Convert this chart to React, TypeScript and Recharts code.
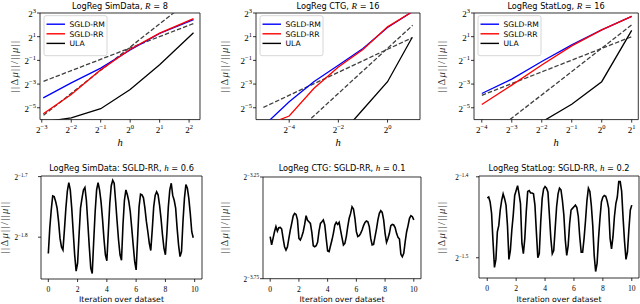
import React from "react";
import { LineChart, Line, XAxis, YAxis, ReferenceArea } from "recharts";

const SERIF = "'Liberation Serif', 'DejaVu Serif', serif";
const SANS = "'DejaVu Sans', sans-serif";

// top row: log2(h) and log2(||Δμ||/||μ||)
const simH = [-2.95, -2, -1, 0, 1, 2.15];
const simRM = [-4.16, -2.9, -1.65, -0.12, 1.27, 2.44];
const simRR = [-5.5, -3.88, -1.8, -0.06, 1.3, 2.53];
const simULA = [-6.2, -5.85, -5.08, -3.46, -1.37, 1.33];
const simRefH = [-2.94, 2.15];
const simRef1 = [-2.77, 2.11];
const simRef2 = [-5.63, 4.33];

const ctgH = [-5, -4, -3, -2, -1, 0, 1];
const ctgRM = [-6.45, -4.5, -2.81, -1.41, 0.0, 1.77, 3.1];
const ctgRR = [-6.5, -5.7, -3.37, -1.55, -0.08, 1.83, 3.1];
const ctgUlaH = [-2, -1, 0, 1];
const ctgULA = [-7.5, -5.15, -2.8, 0.93];
const ctgRefH = [-5.05, 1.02];
const ctgRef1 = [-4.97, 0.93];
const ctgRef2 = [-9.6, 1.96];

const statH = [-4, -3, -2, -1, 0, 1];
const statRM = [-3.8, -2.58, -1.1, 0.31, 1.58, 2.72];
const statRR = [-4.73, -3.09, -1.39, 0.22, 1.58, 2.72];
const statUlaH = [-2, -1, 0, 1];
const statULA = [-6.2, -4.7, -2.8, 1.53];
const statRef1H = [-4, 1];
const statRef1 = [-3.95, 1.0];
const statRef2H = [-3.06, 1];
const statRef2 = [-6.0, 2.0];

// bottom row: iteration over dataset vs log2(||Δμ||/||μ||)
const iters = [
  0, 0.1, 0.2, 0.3, 0.4, 0.5, 0.6, 0.7, 0.8, 0.9, 1, 1.1, 1.2, 1.3, 1.4, 1.5, 1.6, 1.7, 1.8, 1.9,
  2, 2.1, 2.2, 2.3, 2.4, 2.5, 2.6, 2.7, 2.8, 2.9, 3, 3.1, 3.2, 3.3, 3.4, 3.5, 3.6, 3.7, 3.8, 3.9,
  4, 4.1, 4.2, 4.3, 4.4, 4.5, 4.6, 4.7, 4.8, 4.9, 5, 5.1, 5.2, 5.3, 5.4, 5.5, 5.6, 5.7, 5.8, 5.9,
  6, 6.1, 6.2, 6.3, 6.4, 6.5, 6.6, 6.7, 6.8, 6.9, 7, 7.1, 7.2, 7.3, 7.4, 7.5, 7.6, 7.7, 7.8, 7.9,
  8, 8.1, 8.2, 8.3, 8.4, 8.5, 8.6, 8.7, 8.8, 8.9, 9, 9.1, 9.2, 9.3, 9.4, 9.5, 9.6, 9.7, 9.8, 9.9, 10,
];

const simIter = [
  -1.827, -1.785, -1.755, -1.732, -1.733, -1.741, -1.752, -1.774, -1.802, -1.816,
  -1.821, -1.788, -1.752, -1.724, -1.71, -1.722, -1.752, -1.791, -1.829, -1.856,
  -1.843, -1.796, -1.752, -1.736, -1.722, -1.718, -1.739, -1.777, -1.816, -1.851,
  -1.86, -1.807, -1.758, -1.722, -1.71, -1.722, -1.741, -1.769, -1.802, -1.829,
  -1.839, -1.791, -1.744, -1.715, -1.706, -1.711, -1.741, -1.774, -1.805, -1.829,
  -1.838, -1.78, -1.739, -1.722, -1.73, -1.741, -1.758, -1.785, -1.813, -1.84,
  -1.854, -1.802, -1.75, -1.729, -1.73, -1.735, -1.752, -1.774, -1.791, -1.81,
  -1.822, -1.788, -1.75, -1.731, -1.725, -1.73, -1.747, -1.769, -1.796, -1.818,
  -1.829, -1.794, -1.75, -1.722, -1.711, -1.731, -1.739, -1.752, -1.785, -1.813,
  -1.832, -1.824, -1.774, -1.736, -1.713, -1.719, -1.736, -1.761, -1.791, -1.801,
];

const ctgIter = [
  -3.543, -3.584, -3.552, -3.519, -3.494, -3.516, -3.499, -3.498, -3.506, -3.552,
  -3.593, -3.609, -3.594, -3.552, -3.511, -3.478, -3.442, -3.429, -3.434, -3.461,
  -3.552, -3.56, -3.543, -3.519, -3.483, -3.44, -3.463, -3.47, -3.478, -3.522,
  -3.588, -3.593, -3.588, -3.571, -3.516, -3.478, -3.47, -3.461, -3.486, -3.552,
  -3.614, -3.617, -3.588, -3.56, -3.527, -3.486, -3.473, -3.483, -3.473, -3.511,
  -3.548, -3.584, -3.576, -3.543, -3.494, -3.453, -3.429, -3.396, -3.407, -3.453,
  -3.519, -3.543, -3.539, -3.527, -3.511, -3.489, -3.473, -3.466, -3.47, -3.494,
  -3.552, -3.584, -3.581, -3.543, -3.506, -3.461, -3.429, -3.416, -3.424, -3.461,
  -3.527, -3.571, -3.552, -3.527, -3.489, -3.483, -3.486, -3.499, -3.527, -3.547,
  -3.555, -3.63, -3.642, -3.625, -3.568, -3.519, -3.489, -3.453, -3.44, -3.445, -3.461,
];

const statIter = [
  -1.426, -1.425, -1.431, -1.445, -1.48, -1.512, -1.502, -1.468, -1.46, -1.441,
  -1.429, -1.421, -1.427, -1.435, -1.46, -1.502, -1.491, -1.466, -1.447, -1.423,
  -1.417, -1.411, -1.421, -1.433, -1.482, -1.495, -1.476, -1.443, -1.418, -1.417,
  -1.42, -1.42, -1.421, -1.435, -1.468, -1.5, -1.495, -1.456, -1.427, -1.415,
  -1.412, -1.414, -1.419, -1.447, -1.476, -1.495, -1.491, -1.464, -1.437, -1.421,
  -1.414, -1.416, -1.429, -1.447, -1.478, -1.497, -1.485, -1.458, -1.441, -1.439,
  -1.437, -1.435, -1.438, -1.449, -1.474, -1.493, -1.493, -1.476, -1.454, -1.429,
  -1.414, -1.418, -1.435, -1.46, -1.497, -1.517, -1.507, -1.476, -1.451, -1.431,
  -1.425, -1.423, -1.424, -1.43, -1.439, -1.476, -1.489, -1.474, -1.449, -1.433,
  -1.425, -1.406, -1.406, -1.418, -1.451, -1.48, -1.502, -1.493, -1.465, -1.441, -1.435,
];

const legendNames = ["SGLD-RM", "SGLD-RR", "ULA"];
const legendColors = ["#0000ff", "#ff0000", "#000000"];
const iterTicks = [0, 2, 4, 6, 8, 10];

type S = { xs: number[]; ys: number[]; color: string; w: number; dashed?: boolean };

const pts = (xs: number[], ys: number[]) => xs.map((x, i) => ({ x, y: ys[i] }));
const expStr = (v: number) => (v < 0 ? "\u2212" : "") + String(Math.abs(Math.round(v * 100) / 100));

function PowTickX(props: any) {
  const { x, y, payload } = props;
  return (
    <text x={x} y={y + 8} textAnchor="middle" fontFamily={SERIF} fill="#000">
      <tspan fontSize={9}>2</tspan>
      <tspan fontSize={6.5} dy={-4}>{expStr(payload.value)}</tspan>
    </text>
  );
}

function makePowTickY(fs: number, dx: number) {
  return (props: any) => {
    const { x, y, payload } = props;
    return (
      <text x={x + dx} y={y + fs * 0.45} textAnchor="end" fontFamily={SERIF} fill="#000">
        <tspan fontSize={fs}>2</tspan>
        <tspan fontSize={fs * 0.72} dy={-fs * 0.45}>{expStr(payload.value)}</tspan>
      </text>
    );
  };
}

function NumTickX(props: any) {
  const { x, y, payload } = props;
  return (
    <text x={x} y={y + 8} textAnchor="middle" fontFamily={SERIF} fontSize={7.6} fill="#000">
      {payload.value}
    </text>
  );
}

type PanelProps = {
  box: number[];
  xDomain: number[];
  yDomain: number[];
  xTicks: number[];
  yTicks: number[];
  series: S[];
  pow: boolean;
  yTick: any;
};

function Panel({ box, xDomain, yDomain, xTicks, yTicks, series, pow, yTick }: PanelProps) {
  const [L, T, R, B] = box;
  const padL = 60;
  const padT = 14;
  const padR = 2;
  const axisH = 30;
  return (
    <div style={{ position: "absolute", left: L - padL, top: T - padT }}>
      <LineChart width={R - L + padL + padR} height={B - T + padT + axisH} margin={{ top: padT, right: padR, left: 0, bottom: 0 }}>
        <XAxis
          type="number"
          dataKey="x"
          domain={xDomain}
          ticks={xTicks}
          interval={0}
          allowDataOverflow
          height={axisH}
          axisLine={false}
          tickSize={3}
          tickMargin={2}
          tickLine={{ stroke: "#000", strokeWidth: 0.8 }}
          tick={pow ? <PowTickX /> : <NumTickX />}
        />
        <YAxis
          type="number"
          domain={yDomain}
          ticks={yTicks}
          interval={0}
          allowDataOverflow
          width={padL}
          axisLine={false}
          tickSize={3}
          tickMargin={2}
          tickLine={{ stroke: "#000", strokeWidth: 0.8 }}
          tick={yTick}
        />
        {series.map((s, i) => (
          <Line
            key={i}
            data={pts(s.xs, s.ys)}
            dataKey="y"
            type="linear"
            stroke={s.color}
            strokeWidth={s.w}
            strokeDasharray={s.dashed ? "4.5 2" : undefined}
            dot={false}
            activeDot={false}
            isAnimationActive={false}
          />
        ))}
        <ReferenceArea x1={xDomain[0]} x2={xDomain[1]} y1={yDomain[0]} y2={yDomain[1]} fill="none" stroke="#000" strokeWidth={0.8} fillOpacity={0} />
      </LineChart>
    </div>
  );
}

const DASH = "#404040";

function Legend({ L, T }: { L: number; T: number }) {
  return (
    <g>
      <rect x={L + 4} y={T + 3} width={63} height={40} rx={2} fill="#fff" fillOpacity={0.8} stroke="#cccccc" strokeWidth={0.8} />
      {legendNames.map((n, i) => (
        <g key={n}>
          <line x1={L + 6.5} x2={L + 25} y1={T + 11.5 + 9.6 * i} y2={T + 11.5 + 9.6 * i} stroke={legendColors[i]} strokeWidth={1.4} />
          <text x={L + 29.5} y={T + 14.3 + 9.6 * i} fontFamily={SANS} fontSize={7.6} fill="#000">{n}</text>
        </g>
      ))}
    </g>
  );
}

function YLabel({ x, y }: { x: number; y: number }) {
  return (
    <text transform={`translate(${x},${y}) rotate(-90)`} textAnchor="middle" fontFamily={SERIF} fontSize={10.5} fill="#333" letterSpacing={1.3}>
      ||Δ<tspan fontStyle="italic">μ</tspan>||/||<tspan fontStyle="italic">μ</tspan>||
    </text>
  );
}

function Title({ cx, y, name, sym, val }: { cx: number; y: number; name: string; sym: string; val: string }) {
  return (
    <text x={cx} y={y} textAnchor="middle" fontFamily={SANS} fontSize={8.2} fill="#000">
      {name}
      <tspan fontFamily={SERIF} fontStyle="italic" fontSize={9}>{sym}</tspan>
      {" = " + val}
    </text>
  );
}

const topY = [-6, 3];
const topYTicks = [-5, -3, -1, 1, 3];
const topTickY = makePowTickY(9, 1);

export default function App() {
  const boxes = {
    sim: [40, 12.7, 200, 119.3],
    ctg: [256, 12.7, 420, 119.3],
    stat: [474, 12.7, 638.3, 119.3],
    simI: [41, 176, 202, 279],
    ctgI: [263, 177.3, 421, 279],
    statI: [479, 176, 639, 278],
  };
  const refStyle = { color: DASH, w: 1.3, dashed: true };
  return (
    <div style={{ position: "absolute", left: 0, top: 0, width: 640, height: 304, overflow: "hidden", background: "#fff" }}>
      <Panel
        box={boxes.sim}
        xDomain={[-3.06, 2.37]}
        yDomain={topY}
        xTicks={[-3, -2, -1, 0, 1, 2]}
        yTicks={topYTicks}
        pow
        yTick={topTickY}
        series={[
          { xs: simRefH, ys: simRef1, ...refStyle },
          { xs: simRefH, ys: simRef2, ...refStyle },
          { xs: simH, ys: simULA, color: "#000", w: 1.3 },
          { xs: simH, ys: simRM, color: "#0000ff", w: 1.3 },
          { xs: simH, ys: simRR, color: "#ff0000", w: 1.3 },
        ]}
      />
      <Panel
        box={boxes.ctg}
        xDomain={[-5.35, 1.32]}
        yDomain={topY}
        xTicks={[-4, -2, 0]}
        yTicks={topYTicks}
        pow
        yTick={topTickY}
        series={[
          { xs: ctgRefH, ys: ctgRef1, ...refStyle },
          { xs: ctgRefH, ys: ctgRef2, ...refStyle },
          { xs: ctgUlaH, ys: ctgULA, color: "#000", w: 1.3 },
          { xs: ctgH, ys: ctgRM, color: "#0000ff", w: 1.3 },
          { xs: ctgH, ys: ctgRR, color: "#ff0000", w: 1.3 },
        ]}
      />
      <Panel
        box={boxes.stat}
        xDomain={[-4.26, 1.22]}
        yDomain={topY}
        xTicks={[-4, -3, -2, -1, 0, 1]}
        yTicks={topYTicks}
        pow
        yTick={topTickY}
        series={[
          { xs: statRef1H, ys: statRef1, ...refStyle },
          { xs: statRef2H, ys: statRef2, ...refStyle },
          { xs: statUlaH, ys: statULA, color: "#000", w: 1.3 },
          { xs: statH, ys: statRM, color: "#0000ff", w: 1.3 },
          { xs: statH, ys: statRR, color: "#ff0000", w: 1.3 },
        ]}
      />
      <Panel
        box={boxes.simI}
        xDomain={[-0.5, 10.5]}
        yDomain={[-1.869, -1.699]}
        xTicks={iterTicks}
        yTicks={[-1.8, -1.7]}
        pow={false}
        yTick={makePowTickY(7.2, -8.5)}
        series={[{ xs: iters.slice(0, simIter.length), ys: simIter, color: "#000", w: 1.6 }]}
      />
      <Panel
        box={boxes.ctgI}
        xDomain={[-0.5, 10.5]}
        yDomain={[-3.75, -3.25]}
        xTicks={iterTicks}
        yTicks={[-3.75, -3.25]}
        pow={false}
        yTick={makePowTickY(7.2, 1)}
        series={[{ xs: iters, ys: ctgIter, color: "#000", w: 1.6 }]}
      />
      <Panel
        box={boxes.statI}
        xDomain={[-0.57, 10.5]}
        yDomain={[-1.525, -1.399]}
        xTicks={iterTicks}
        yTicks={[-1.5, -1.4]}
        pow={false}
        yTick={makePowTickY(7.2, -5.7)}
        series={[{ xs: iters, ys: statIter, color: "#000", w: 1.6 }]}
      />
      <svg width={640} height={304} style={{ position: "absolute", left: 0, top: 0, pointerEvents: "none" }}>
        <Title cx={120} y={9} name="LogReg SimData, " sym="R" val="8" />
        <Title cx={338} y={9} name="LogReg CTG, " sym="R" val="16" />
        <Title cx={556} y={9} name="LogReg StatLog, " sym="R" val="16" />
        <Title cx={121.5} y={170.5} name="LogReg SimData: SGLD-RR, " sym="h" val="0.6" />
        <Title cx={342} y={170.5} name="LogReg CTG: SGLD-RR, " sym="h" val="0.1" />
        <Title cx={559} y={170.5} name="LogReg StatLog: SGLD-RR, " sym="h" val="0.2" />
        <Legend L={40} T={12.7} />
        <Legend L={256} T={12.7} />
        <Legend L={474} T={12.7} />
        <YLabel x={18} y={66} />
        <YLabel x={228} y={66} />
        <YLabel x={445} y={66} />
        <YLabel x={8} y={227} />
        <YLabel x={228} y={227} />
        <YLabel x={445} y={227} />
        {[120, 338, 556].map((cx) => (
          <text key={cx} x={cx} y={146} textAnchor="middle" fontFamily={SERIF} fontStyle="italic" fontSize={10.5} fill="#000">h</text>
        ))}
        {[121.5, 342, 559].map((cx) => (
          <text key={cx} x={cx} y={302} textAnchor="middle" fontFamily={SANS} fontSize={7.8} fill="#000">Iteration over dataset</text>
        ))}
      </svg>
    </div>
  );
}
